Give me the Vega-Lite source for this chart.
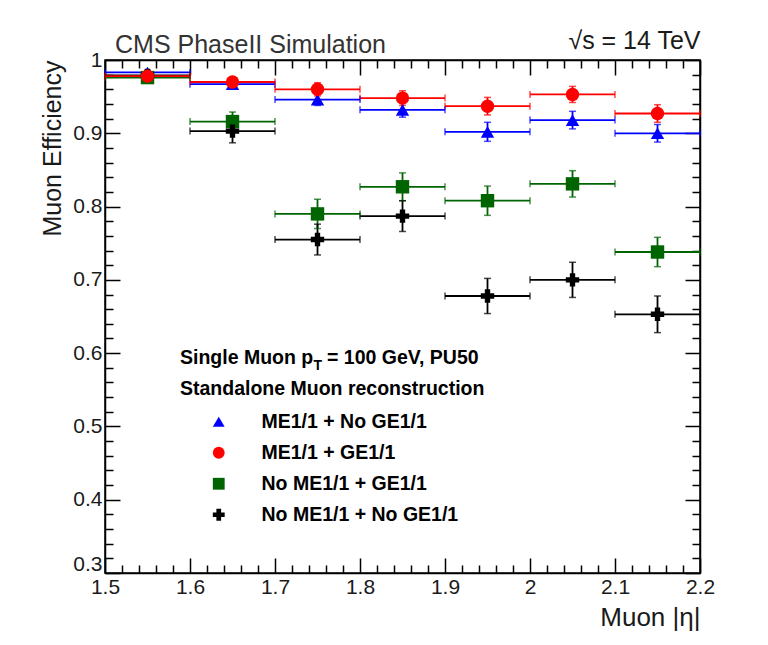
{
  "$schema": "https://vega.github.io/schema/vega-lite/v6.json",
  "width": 595,
  "height": 513,
  "autosize": {"type": "none"},
  "padding": {"left": 105, "top": 60, "right": 68, "bottom": 72},
  "background": "white",
  "config": {
    "font": "Liberation Sans",
    "view": {"stroke": "black", "strokeWidth": 1.5},
    "axis": {"grid": false}
  },
  "title": {
    "text": "CMS PhaseII Simulation",
    "anchor": "start",
    "frame": "group",
    "fontSize": 25,
    "fontWeight": "normal",
    "color": "#333333",
    "font": "Liberation Sans",
    "dx": 10,
    "dy": 30,
    "offset": 0
  },
  "datasets": {
    "pts": [
      {"s": "ME1/1 + No GE1/1", "eta": 1.55, "lo": 1.5, "hi": 1.6, "eff": 0.983, "elo": 0.980, "ehi": 0.986},
      {"s": "ME1/1 + No GE1/1", "eta": 1.65, "lo": 1.6, "hi": 1.7, "eff": 0.967, "elo": 0.962, "ehi": 0.972},
      {"s": "ME1/1 + No GE1/1", "eta": 1.75, "lo": 1.7, "hi": 1.8, "eff": 0.946, "elo": 0.938, "ehi": 0.954},
      {"s": "ME1/1 + No GE1/1", "eta": 1.85, "lo": 1.8, "hi": 1.9, "eff": 0.932, "elo": 0.922, "ehi": 0.942},
      {"s": "ME1/1 + No GE1/1", "eta": 1.95, "lo": 1.9, "hi": 2.0, "eff": 0.902, "elo": 0.889, "ehi": 0.915},
      {"s": "ME1/1 + No GE1/1", "eta": 2.05, "lo": 2.0, "hi": 2.1, "eff": 0.918, "elo": 0.906, "ehi": 0.930},
      {"s": "ME1/1 + No GE1/1", "eta": 2.15, "lo": 2.1, "hi": 2.2, "eff": 0.900, "elo": 0.888, "ehi": 0.912},
      {"s": "No ME1/1 + GE1/1", "eta": 1.55, "lo": 1.5, "hi": 1.6, "eff": 0.976, "elo": 0.973, "ehi": 0.979},
      {"s": "No ME1/1 + GE1/1", "eta": 1.65, "lo": 1.6, "hi": 1.7, "eff": 0.916, "elo": 0.903, "ehi": 0.929},
      {"s": "No ME1/1 + GE1/1", "eta": 1.75, "lo": 1.7, "hi": 1.8, "eff": 0.790, "elo": 0.770, "ehi": 0.810},
      {"s": "No ME1/1 + GE1/1", "eta": 1.85, "lo": 1.8, "hi": 1.9, "eff": 0.827, "elo": 0.808, "ehi": 0.846},
      {"s": "No ME1/1 + GE1/1", "eta": 1.95, "lo": 1.9, "hi": 2.0, "eff": 0.808, "elo": 0.788, "ehi": 0.828},
      {"s": "No ME1/1 + GE1/1", "eta": 2.05, "lo": 2.0, "hi": 2.1, "eff": 0.831, "elo": 0.813, "ehi": 0.849},
      {"s": "No ME1/1 + GE1/1", "eta": 2.15, "lo": 2.1, "hi": 2.2, "eff": 0.738, "elo": 0.718, "ehi": 0.758},
      {"s": "No ME1/1 + No GE1/1", "eta": 1.55, "lo": 1.5, "hi": 1.6, "eff": 0.979, "elo": 0.975, "ehi": 0.983},
      {"s": "No ME1/1 + No GE1/1", "eta": 1.65, "lo": 1.6, "hi": 1.7, "eff": 0.903, "elo": 0.887, "ehi": 0.919},
      {"s": "No ME1/1 + No GE1/1", "eta": 1.75, "lo": 1.7, "hi": 1.8, "eff": 0.755, "elo": 0.734, "ehi": 0.776},
      {"s": "No ME1/1 + No GE1/1", "eta": 1.85, "lo": 1.8, "hi": 1.9, "eff": 0.787, "elo": 0.766, "ehi": 0.808},
      {"s": "No ME1/1 + No GE1/1", "eta": 1.95, "lo": 1.9, "hi": 2.0, "eff": 0.678, "elo": 0.654, "ehi": 0.702},
      {"s": "No ME1/1 + No GE1/1", "eta": 2.05, "lo": 2.0, "hi": 2.1, "eff": 0.700, "elo": 0.676, "ehi": 0.724},
      {"s": "No ME1/1 + No GE1/1", "eta": 2.15, "lo": 2.1, "hi": 2.2, "eff": 0.653, "elo": 0.628, "ehi": 0.678},
      {"s": "ME1/1 + GE1/1", "eta": 1.55, "lo": 1.5, "hi": 1.6, "eff": 0.978, "elo": 0.975, "ehi": 0.981},
      {"s": "ME1/1 + GE1/1", "eta": 1.65, "lo": 1.6, "hi": 1.7, "eff": 0.970, "elo": 0.964, "ehi": 0.976},
      {"s": "ME1/1 + GE1/1", "eta": 1.75, "lo": 1.7, "hi": 1.8, "eff": 0.960, "elo": 0.951, "ehi": 0.969},
      {"s": "ME1/1 + GE1/1", "eta": 1.85, "lo": 1.8, "hi": 1.9, "eff": 0.948, "elo": 0.938, "ehi": 0.958},
      {"s": "ME1/1 + GE1/1", "eta": 1.95, "lo": 1.9, "hi": 2.0, "eff": 0.937, "elo": 0.925, "ehi": 0.949},
      {"s": "ME1/1 + GE1/1", "eta": 2.05, "lo": 2.0, "hi": 2.1, "eff": 0.953, "elo": 0.942, "ehi": 0.964},
      {"s": "ME1/1 + GE1/1", "eta": 2.15, "lo": 2.1, "hi": 2.2, "eff": 0.927, "elo": 0.915, "ehi": 0.939}
    ],
    "notes": [
      {"x": 1.5882, "y": 0.5933, "text": "Single Muon p", "size": 19.5},
      {"x": 1.7453, "y": 0.5824, "text": "T", "size": 14},
      {"x": 1.7612, "y": 0.5933, "text": "= 100 GeV, PU50", "size": 19.5},
      {"x": 1.5882, "y": 0.551, "text": "Standalone Muon reconstruction", "size": 19.5}
    ]
  },
  "resolve": {"axis": {"x": "independent", "y": "independent"}},
  "layer": [
    {
      "data": {"name": "pts"},
      "mark": {"type": "rule", "strokeWidth": 1.8},
      "encoding": {
        "x": {
          "field": "lo", "type": "quantitative",
          "scale": {"domain": [1.5, 2.2], "nice": false, "zero": false},
          "axis": {
            "orient": "bottom",
            "values": [1.5,1.52,1.54,1.56,1.58,1.6,1.62,1.64,1.66,1.68,1.7,1.72,1.74,1.76,1.78,1.8,1.82,1.84,1.86,1.88,1.9,1.92,1.94,1.96,1.98,2,2.02,2.04,2.06,2.08,2.1,2.12,2.14,2.16,2.18,2.2],
            "labelExpr": "abs(datum.value*10-round(datum.value*10))<0.01 ? format(datum.value, '~g') : ''",
            "tickSize": {"condition": {"test": "abs(datum.value*10-round(datum.value*10))<0.01", "value": -15}, "value": -8},
            "tickColor": "black", "tickWidth": 1.5,
            "domainColor": "black", "domainWidth": 1.5,
            "labelFontSize": 21, "labelColor": "#1a1a1a", "labelPadding": 18,
            "labelOverlap": false, "labelFlush": false, "labelBound": false,
            "title": "Muon |η|", "titleAnchor": "end", "titleFontSize": 26,
            "titleFontWeight": "normal", "titleColor": "#1a1a1a", "titlePadding": 0
          }
        },
        "x2": {"field": "hi"},
        "y": {
          "field": "eff", "type": "quantitative",
          "scale": {"domain": [0.3, 1.0], "nice": false, "zero": false},
          "axis": {
            "orient": "left",
            "values": [0.3,0.32,0.34,0.36,0.38,0.4,0.42,0.44,0.46,0.48,0.5,0.52,0.54,0.56,0.58,0.6,0.62,0.64,0.66,0.68,0.7,0.72,0.74,0.76,0.78,0.8,0.82,0.84,0.86,0.88,0.9,0.92,0.94,0.96,0.98,1],
            "labelExpr": "abs(datum.value*10-round(datum.value*10))<0.01 ? format(datum.value, '~g') : ''",
            "tickSize": {"condition": {"test": "abs(datum.value*10-round(datum.value*10))<0.01", "value": -15}, "value": -8},
            "tickColor": "black", "tickWidth": 1.5,
            "domainColor": "black", "domainWidth": 1.5,
            "labelFontSize": 21, "labelColor": "#1a1a1a", "labelPadding": 18,
            "labelOffset": {"condition": {"test": "datum.value < 0.31", "value": -9}, "value": 0},
            "labelOverlap": false, "labelFlush": false, "labelBound": false,
            "title": "Muon Efficiency", "titleAnchor": "end", "titleFontSize": 25,
            "titleFontWeight": "normal", "titleColor": "#1a1a1a", "titlePadding": 7
          }
        },
        "color": {
          "field": "s", "type": "nominal", "legend": null,
          "scale": {"range": ["#ff0000", "#0000ff", "#006400", "#000000"]}
        }
      }
    },
    {
      "data": {"name": "pts"},
      "mark": {"type": "rule", "strokeWidth": 1.8},
      "encoding": {
        "x": {"field": "eta", "type": "quantitative", "axis": null, "scale": {"domain": [1.5, 2.2], "nice": false, "zero": false}},
        "y": {"field": "elo", "type": "quantitative", "axis": null, "scale": {"domain": [0.3, 1.0], "nice": false, "zero": false}},
        "y2": {"field": "ehi"},
        "color": {"field": "s", "type": "nominal", "legend": null}
      }
    },
    {
      "data": {"name": "pts"},
      "mark": {"type": "tick", "orient": "vertical", "size": 7, "thickness": 1.5},
      "encoding": {
        "x": {"field": "lo", "type": "quantitative", "axis": null, "scale": {"domain": [1.5, 2.2], "nice": false, "zero": false}},
        "y": {"field": "eff", "type": "quantitative", "axis": null, "scale": {"domain": [0.3, 1.0], "nice": false, "zero": false}},
        "color": {"field": "s", "type": "nominal", "legend": null}
      }
    },
    {
      "data": {"name": "pts"},
      "mark": {"type": "tick", "orient": "vertical", "size": 7, "thickness": 1.5},
      "encoding": {
        "x": {"field": "hi", "type": "quantitative", "axis": null, "scale": {"domain": [1.5, 2.2], "nice": false, "zero": false}},
        "y": {"field": "eff", "type": "quantitative", "axis": null, "scale": {"domain": [0.3, 1.0], "nice": false, "zero": false}},
        "color": {"field": "s", "type": "nominal", "legend": null}
      }
    },
    {
      "data": {"name": "pts"},
      "mark": {"type": "tick", "orient": "horizontal", "size": 7, "thickness": 1.5},
      "encoding": {
        "x": {"field": "eta", "type": "quantitative", "axis": null, "scale": {"domain": [1.5, 2.2], "nice": false, "zero": false}},
        "y": {"field": "elo", "type": "quantitative", "axis": null, "scale": {"domain": [0.3, 1.0], "nice": false, "zero": false}},
        "color": {"field": "s", "type": "nominal", "legend": null}
      }
    },
    {
      "data": {"name": "pts"},
      "mark": {"type": "tick", "orient": "horizontal", "size": 7, "thickness": 1.5},
      "encoding": {
        "x": {"field": "eta", "type": "quantitative", "axis": null, "scale": {"domain": [1.5, 2.2], "nice": false, "zero": false}},
        "y": {"field": "ehi", "type": "quantitative", "axis": null, "scale": {"domain": [0.3, 1.0], "nice": false, "zero": false}},
        "color": {"field": "s", "type": "nominal", "legend": null}
      }
    },
    {
      "data": {"name": "pts"},
      "mark": {"type": "point", "filled": true, "opacity": 1, "size": 180},
      "encoding": {
        "x": {"field": "eta", "type": "quantitative", "axis": null, "scale": {"domain": [1.5, 2.2], "nice": false, "zero": false}},
        "y": {"field": "eff", "type": "quantitative", "axis": null, "scale": {"domain": [0.3, 1.0], "nice": false, "zero": false}},
        "fill": {
          "field": "s", "type": "nominal",
          "scale": {"domain": ["ME1/1 + No GE1/1", "ME1/1 + GE1/1", "No ME1/1 + GE1/1", "No ME1/1 + No GE1/1"], "range": ["#0000ff", "#ff0000", "#006400", "#000000"]},
          "legend": {
            "orient": "none", "legendX": 104, "legendY": 352, "title": null,
            "labelFont": "Liberation Sans", "labelFontSize": 19.5, "labelFontWeight": "bold",
            "labelColor": "black", "symbolSize": 140, "rowPadding": 10, "labelOffset": 33,
            "padding": 0, "symbolStrokeWidth": 0, "symbolOpacity": 1, "labelLimit": 400
          }
        },
        "shape": {
          "field": "s", "type": "nominal",
          "scale": {"domain": ["ME1/1 + No GE1/1", "ME1/1 + GE1/1", "No ME1/1 + GE1/1", "No ME1/1 + No GE1/1"], "range": ["triangle-up", "circle", "square", "cross"]},
          "legend": {
            "orient": "none", "legendX": 104, "legendY": 352, "title": null,
            "labelFont": "Liberation Sans", "labelFontSize": 19.5, "labelFontWeight": "bold",
            "labelColor": "black", "symbolSize": 140, "rowPadding": 10, "labelOffset": 33,
            "padding": 0, "symbolStrokeWidth": 0, "symbolOpacity": 1, "labelLimit": 400
          }
        }
      }
    },
    {
      "data": {"name": "notes"},
      "mark": {"type": "text", "align": "left", "baseline": "middle", "fontWeight": "bold", "font": "Liberation Sans", "color": "black"},
      "encoding": {
        "x": {
          "field": "x", "type": "quantitative",
          "scale": {"domain": [1.5, 2.2], "nice": false, "zero": false},
          "axis": {
            "orient": "top",
            "values": [1.5,1.52,1.54,1.56,1.58,1.6,1.62,1.64,1.66,1.68,1.7,1.72,1.74,1.76,1.78,1.8,1.82,1.84,1.86,1.88,1.9,1.92,1.94,1.96,1.98,2,2.02,2.04,2.06,2.08,2.1,2.12,2.14,2.16,2.18,2.2],
            "labels": false,
            "tickSize": {"condition": {"test": "abs(datum.value*10-round(datum.value*10))<0.01", "value": -15}, "value": -8},
            "tickColor": "black", "tickWidth": 1.5,
            "domainColor": "black", "domainWidth": 1.5,
            "title": "√s = 14 TeV", "titleAnchor": "end", "titleFontSize": 25,
            "titleFontWeight": "normal", "titleColor": "#1a1a1a", "titlePadding": 6
          }
        },
        "y": {
          "field": "y", "type": "quantitative",
          "scale": {"domain": [0.3, 1.0], "nice": false, "zero": false},
          "axis": {
            "orient": "right",
            "values": [0.3,0.32,0.34,0.36,0.38,0.4,0.42,0.44,0.46,0.48,0.5,0.52,0.54,0.56,0.58,0.6,0.62,0.64,0.66,0.68,0.7,0.72,0.74,0.76,0.78,0.8,0.82,0.84,0.86,0.88,0.9,0.92,0.94,0.96,0.98,1],
            "labels": false,
            "tickSize": {"condition": {"test": "abs(datum.value*10-round(datum.value*10))<0.01", "value": -15}, "value": -8},
            "tickColor": "black", "tickWidth": 1.5,
            "domainColor": "black", "domainWidth": 1.5,
            "title": null
          }
        },
        "text": {"field": "text", "type": "nominal"},
        "size": {"field": "size", "type": "quantitative", "scale": null}
      }
    }
  ]
}
